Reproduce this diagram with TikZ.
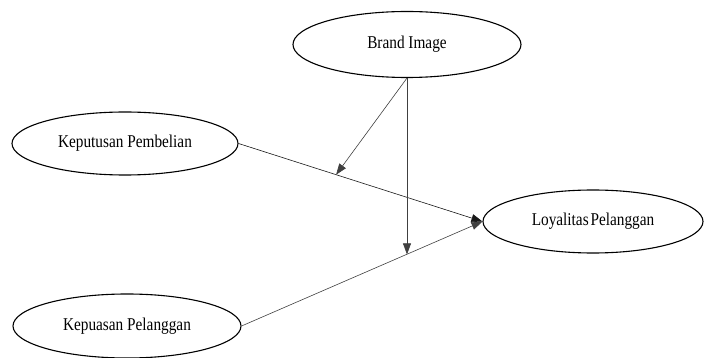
\documentclass[tikz,border=0pt]{standalone}
\usepackage{fontspec}
\setmainfont{Liberation Serif}
\newfontfamily\condserif[FakeStretch=0.85]{Liberation Serif}
\usetikzlibrary{shapes.geometric,arrows.meta,calc}
\begin{document}
\begin{tikzpicture}[x=1pt,y=-1pt,
  var/.style={ellipse,draw=black,line width=1.1pt,inner sep=0pt,font=\condserif\fontsize{18}{20}\selectfont},
  conn/.style={draw=black!75,line width=0.6pt,-{Triangle[length=11pt,width=8pt]}}]
\useasboundingbox (0,0) rectangle (705,358);
\node[var,minimum width=228pt,minimum height=66pt] (bi) at (407,44.5) {Brand Image};
\node[var,minimum width=226pt,minimum height=63pt] (kp) at (125,143.5) {Keputusan Pembelian};
\node[var,minimum width=228pt,minimum height=64pt] (ks) at (127,326) {Kepuasan Pelanggan};
\node[var,minimum width=220pt,minimum height=63pt] (lp) at (593,221.5) {Loyalitas\hspace{-2pt} Pelanggan};
\coordinate (m1) at ($(kp.east)!0.4!(lp.west)$);
\coordinate (m2) at ($(ks.east)!0.685!(lp.west)$);
\draw[conn,draw=black!90] (kp.east) -- (lp.west);
\draw[conn] (ks.east) -- (lp.west);
\draw[conn] (bi.south) -- (m1);
\draw[conn] (bi.south) -- (bi.south |- m2);
\end{tikzpicture}
\end{document}
